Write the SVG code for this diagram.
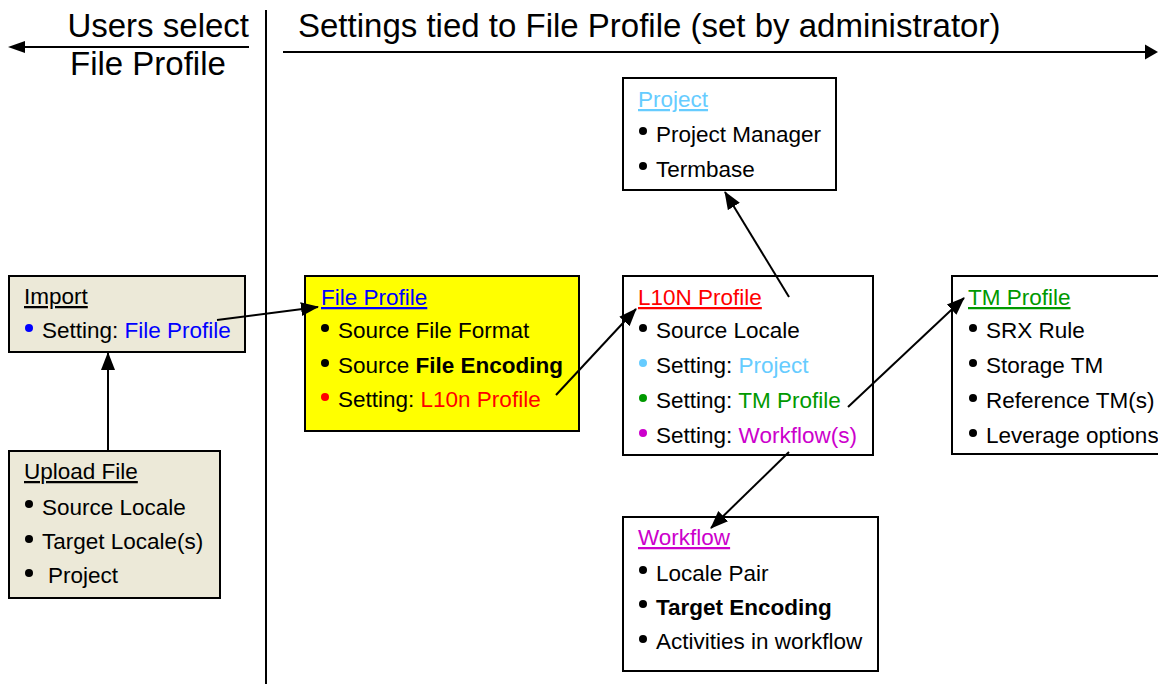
<svg xmlns="http://www.w3.org/2000/svg" width="1158" height="684" viewBox="0 0 1158 684">
  <style>
    text { font-family: "Liberation Sans", Arial, sans-serif; font-size: 22.5px; fill: #000; }
    .head { font-size: 33px; }
    .box { stroke: #000; stroke-width: 2; }
    .beige { fill: #ECE9D8; }
    .white { fill: #FFFFFF; }
    .yellow { fill: #FFFF00; }
    .title { text-decoration: underline; }
    .b { font-weight: bold; }
    .blue { fill: #0000FF; }
    .red { fill: #FF0000; }
    .sky { fill: #66CCFF; }
    .green { fill: #009900; }
    .mag { fill: #CC00CC; }
    .link { stroke: #000; stroke-width: 2; fill: none; marker-end: url(#arrow); }
    .rule { stroke: #000; stroke-width: 2; fill: none; }
  </style>
  <defs>
    <marker id="arrow" markerUnits="userSpaceOnUse" markerWidth="18" markerHeight="16" viewBox="0 0 18 16" refX="17" refY="8" orient="auto">
      <path d="M0,1 L18,8 L0,15 Z" fill="#000"/>
    </marker>
  </defs>

  <rect width="1158" height="684" fill="#FFFFFF"/>

  <!-- header: scope arrows and divider -->
  <g id="header">
    <text class="head" x="249" y="37" text-anchor="end">Users select</text>
    <text class="head" x="70" y="75">File Profile</text>
    <line class="rule" x1="249" y1="47" x2="24" y2="47"/>
    <path d="M8,47 L25,41 L25,53 Z" fill="#000"/>
    <line x1="266" y1="10" x2="266" y2="684" stroke="#000" stroke-width="2"/>
    <text class="head" x="298" y="37">Settings tied to File Profile (set by administrator)</text>
    <line class="rule" x1="283" y1="52" x2="1145" y2="52"/>
    <path d="M1158,52 L1145,44.5 L1145,59.5 Z" fill="#000"/>
  </g>

  <!-- Import -->
  <g id="import">
    <rect class="box beige" x="9" y="276" width="236" height="76"/>
    <text class="title" x="24" y="304">Import</text>
    <circle cx="29" cy="328" r="4" fill="#0000FF"/>
    <text x="42" y="338">Setting: <tspan class="blue">File Profile</tspan></text>
  </g>

  <!-- Upload File -->
  <g id="upload-file">
    <rect class="box beige" x="9" y="451" width="211" height="147"/>
    <text class="title" x="24" y="479">Upload File</text>
    <circle cx="29" cy="504" r="4" fill="#000"/>
    <text x="42" y="515">Source Locale</text>
    <circle cx="29" cy="539" r="4" fill="#000"/>
    <text x="42" y="549">Target Locale(s)</text>
    <circle cx="29" cy="573" r="4" fill="#000"/>
    <text x="48" y="583">Project</text>
  </g>

  <!-- File Profile -->
  <g id="file-profile">
    <rect class="box yellow" x="305" y="276" width="274" height="155"/>
    <text class="title blue" x="321" y="305">File Profile</text>
    <circle cx="325" cy="328" r="4" fill="#000"/>
    <text x="338" y="338">Source File Format</text>
    <circle cx="325" cy="363" r="4" fill="#000"/>
    <text x="338" y="373">Source <tspan class="b">File Encoding</tspan></text>
    <circle cx="325" cy="397" r="4" fill="#FF0000"/>
    <text x="338" y="407">Setting: <tspan class="red">L10n Profile</tspan></text>
  </g>

  <!-- Project -->
  <g id="project">
    <rect class="box white" x="623" y="78" width="213" height="112"/>
    <text class="title sky" x="638" y="107">Project</text>
    <circle cx="643" cy="131" r="4" fill="#000"/>
    <text x="656" y="142">Project Manager</text>
    <circle cx="643" cy="166" r="4" fill="#000"/>
    <text x="656" y="177">Termbase</text>
  </g>

  <!-- L10N Profile -->
  <g id="l10n-profile">
    <rect class="box white" x="623" y="276" width="250" height="179"/>
    <text class="title red" x="638" y="305">L10N Profile</text>
    <circle cx="643" cy="328" r="4" fill="#000"/>
    <text x="656" y="338">Source Locale</text>
    <circle cx="643" cy="363" r="4" fill="#66CCFF"/>
    <text x="656" y="373">Setting: <tspan class="sky">Project</tspan></text>
    <circle cx="643" cy="398" r="4" fill="#009900"/>
    <text x="656" y="408">Setting: <tspan class="green">TM Profile</tspan></text>
    <circle cx="643" cy="433" r="4" fill="#CC00CC"/>
    <text x="656" y="443">Setting: <tspan class="mag">Workflow(s)</tspan></text>
  </g>

  <!-- TM Profile -->
  <g id="tm-profile">
    <rect class="box white" x="952" y="276" width="230" height="178"/>
    <text class="title green" x="968" y="305">TM Profile</text>
    <circle cx="973" cy="328" r="4" fill="#000"/>
    <text x="986" y="338">SRX Rule</text>
    <circle cx="973" cy="363" r="4" fill="#000"/>
    <text x="986" y="373">Storage TM</text>
    <circle cx="973" cy="398" r="4" fill="#000"/>
    <text x="986" y="408">Reference TM(s)</text>
    <circle cx="973" cy="433" r="4" fill="#000"/>
    <text x="986" y="443">Leverage options</text>
  </g>

  <!-- Workflow -->
  <g id="workflow">
    <rect class="box white" x="623" y="517" width="255" height="154"/>
    <text class="title mag" x="638" y="545">Workflow</text>
    <circle cx="643" cy="570" r="4" fill="#000"/>
    <text x="656" y="581">Locale Pair</text>
    <circle cx="643" cy="604" r="4" fill="#000"/>
    <text class="b" x="656" y="615">Target Encoding</text>
    <circle cx="643" cy="639" r="4" fill="#000"/>
    <text x="656" y="649">Activities in workflow</text>
  </g>

  <!-- connectors -->
  <g id="connectors">
    <line class="link" x1="108" y1="451" x2="108" y2="353"/>
    <line class="link" x1="217" y1="320" x2="318" y2="307"/>
    <line class="link" x1="556" y1="395" x2="636" y2="309"/>
    <line class="link" x1="789" y1="297" x2="725" y2="192"/>
    <line class="link" x1="848" y1="407" x2="964" y2="298"/>
    <line class="link" x1="789" y1="452" x2="711" y2="528"/>
  </g>
</svg>
